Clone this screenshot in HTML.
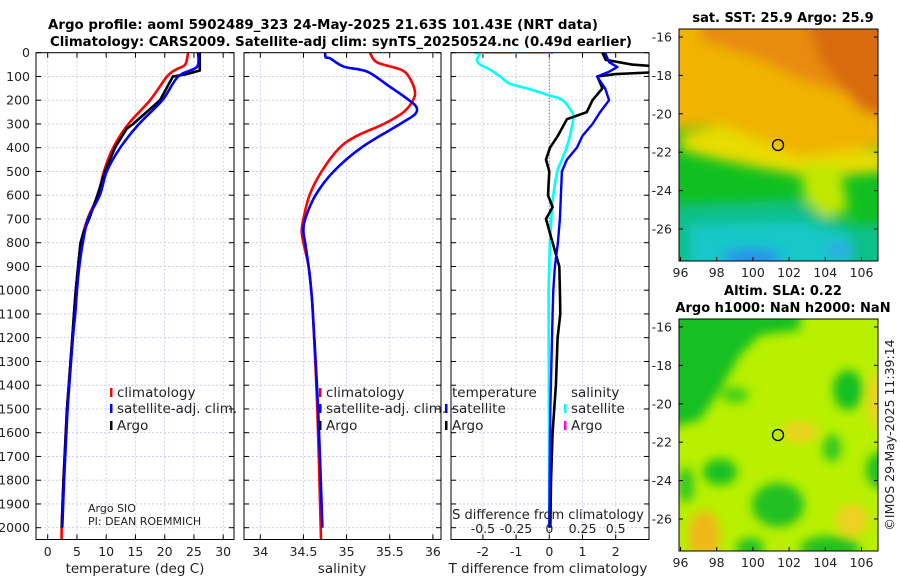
<!DOCTYPE html>
<html><head><meta charset="utf-8"><style>
html,body{margin:0;padding:0;background:#fff;}
svg{display:block;font-family:"DejaVu Sans","Liberation Sans",sans-serif;}
</style></head><body>
<svg id="fig" width="900" height="580" viewBox="0 0 900 580">
<defs>
<clipPath id="c1"><rect x="36" y="52.5" width="198" height="487"/></clipPath>
<clipPath id="c2"><rect x="244" y="52.5" width="197" height="487"/></clipPath>
<clipPath id="c3"><rect x="451" y="52.5" width="198" height="487"/></clipPath>
<clipPath id="m1"><rect x="679" y="29" width="199" height="232"/></clipPath>
<clipPath id="m2"><rect x="679" y="319" width="199" height="232"/></clipPath>
<filter id="bl" x="-50%" y="-50%" width="200%" height="200%"><feGaussianBlur stdDeviation="6"/></filter>
<filter id="bl2" x="-50%" y="-50%" width="200%" height="200%"><feGaussianBlur stdDeviation="5"/></filter>
</defs>
<text x="48" y="29" font-size="13.5" font-weight="bold" textLength="550" lengthAdjust="spacingAndGlyphs">Argo profile: aoml 5902489_323 24-May-2025 21.63S 101.43E (NRT data)</text>
<text x="50" y="46" font-size="13.5" font-weight="bold" textLength="582" lengthAdjust="spacingAndGlyphs">Climatology: CARS2009. Satellite-adj clim: synTS_20250524.nc (0.49d earlier)</text>

<!-- map 1 SST -->
<g clip-path="url(#m1)">
<rect x="679" y="29" width="199" height="232" fill="#10c020"/>
<g filter="url(#bl)">
<path d="M640 0 L920 0 L920 140 L860 150 L800 160 L760 140 L720 125 L640 135Z" fill="#f0b400"/>
<path d="M700 0 L920 0 L920 110 L850 95 L800 80 L760 60 L700 40Z" fill="#e88c10"/>
<path d="M800 0 L920 0 L920 130 L860 110 L820 60Z" fill="#d86c0c"/>
<path d="M680 135 L720 125 L760 140 L800 158 L850 150 L900 150 L900 170 L850 175 L800 175 L760 168 L720 160 L680 150Z" fill="#e8dc00"/>
<path d="M800 165 L840 165 L848 210 L825 218 L805 200Z" fill="#c0e800"/>
<path d="M640 205 L800 200 L820 215 L860 225 L920 220 L920 290 L640 290Z" fill="#10c088"/>
<path d="M690 225 L800 222 L850 235 L850 300 L690 300Z" fill="#18c8c8"/>
<ellipse cx="752" cy="258" rx="30" ry="9" fill="#2c8cf0"/>
<ellipse cx="840" cy="250" rx="14" ry="6" fill="#30a0f0"/>
</g>
</g>
<rect x="679" y="29" width="199" height="232" fill="none" stroke="#000"/>
<circle cx="778" cy="145" r="5.5" fill="none" stroke="#000" stroke-width="1.3"/>
<text x="783" y="22" font-size="13" font-weight="bold" text-anchor="middle">sat. SST: 25.9 Argo: 25.9</text>

<!-- map 2 SLA -->
<g clip-path="url(#m2)">
<rect x="679" y="319" width="199" height="232" fill="#b8f000"/>
<g filter="url(#bl2)">
<path d="M660 300 L800 300 L800 330 L760 335 L740 355 L720 390 L700 420 L660 430Z" fill="#18c020"/>
<ellipse cx="735" cy="395" rx="14" ry="8" fill="#40d018"/>
<ellipse cx="848" cy="390" rx="15" ry="20" fill="#18c020"/>
<ellipse cx="720" cy="472" rx="17" ry="13" fill="#18c020"/>
<ellipse cx="686" cy="485" rx="8" ry="18" fill="#30c820"/>
<ellipse cx="778" cy="505" rx="26" ry="22" fill="#20c020"/>
<ellipse cx="880" cy="470" rx="14" ry="18" fill="#20c020"/>
<ellipse cx="750" cy="548" rx="14" ry="10" fill="#20c020"/>
<ellipse cx="830" cy="548" rx="30" ry="12" fill="#20c020"/>
<ellipse cx="832" cy="448" rx="9" ry="14" fill="#30c820"/>
<ellipse cx="800" cy="432" rx="18" ry="10" fill="#f0d020"/>
<ellipse cx="852" cy="520" rx="16" ry="16" fill="#f0d020"/>
<ellipse cx="878" cy="400" rx="10" ry="28" fill="#f0d020"/>
<ellipse cx="704" cy="535" rx="16" ry="24" fill="#f0b818"/>
</g>
</g>
<rect x="679" y="319" width="199" height="232" fill="none" stroke="#000"/>
<circle cx="778" cy="435" r="5.5" fill="none" stroke="#000" stroke-width="1.3"/>
<text x="783" y="295" font-size="13" font-weight="bold" text-anchor="middle">Altim. SLA: 0.22</text>
<text x="783" y="312" font-size="13" font-weight="bold" text-anchor="middle">Argo h1000: NaN h2000: NaN</text>
<text transform="translate(894,435) rotate(-90)" font-size="12.5" text-anchor="middle" fill="#222">©IMOS 29-May-2025 11:39:14</text>

<g id="plots"></g>
</svg>
<script>
// ---- data ----
const tDepthClim = [0,50,70,100,200,300,400,500,600,700,800,900,1000,1100,1200,1400,1500,1600,1800,2000,2050];
const tClim      = [24.0,23.5,22.0,20.4,17.5,13.8,11.2,9.6,8.6,6.8,5.7,5.2,4.8,4.5,4.2,3.6,3.3,3.1,2.7,2.4,2.4];
const tDepthSat  = [0,60,100,200,300,400,500,600,700,800,900,1000,1100,1200,1400,1500,1600,1800,2000];
const tSat       = [25.7,25.5,22.3,19.6,15.6,12.4,10.1,8.9,6.9,6.0,5.4,5.0,4.7,4.3,3.7,3.4,3.2,2.8,2.5];
const tDepthArgo = [0,75,90,100,150,200,300,320,400,500,600,700,750,800,1000,1100,1200,1400,1500,1600,1800,2000];
const tArgo      = [26.0,26.0,23.8,21.4,20.3,19.2,14.6,13.5,11.5,9.8,8.5,7.1,6.2,5.6,4.8,4.5,4.2,3.6,3.3,3.1,2.7,2.4];

const sDepthClim = [0,40,70,100,160,200,250,300,350,400,500,600,700,750,800,900,1000,1100,1500,2000,2050];
const sClim      = [35.27,35.35,35.62,35.72,35.79,35.77,35.66,35.43,35.12,34.92,34.71,34.57,34.50,34.48,34.50,34.56,34.59,34.61,34.66,34.70,34.70];
const sDepthSat  = [0,20,24,59,80,143,199,230,260,300,400,500,600,700,750,800,900,1000,1100,1500,2000];
const sSat       = [34.75,34.76,34.81,34.97,35.24,35.50,35.72,35.81,35.79,35.62,35.17,34.85,34.64,34.52,34.50,34.52,34.56,34.59,34.61,34.67,34.72];

const dDepthArgoT = [0,30,50,60,80,90,100,150,200,250,280,350,400,450,500,600,650,700,750,800,900,1000,1100,1200,1400,1600,1800,2000];
const dArgoT      = [1.6,1.7,2.5,3.5,3.5,2.0,1.45,1.6,1.3,1.13,0.53,0.26,0.02,-0.1,0,-0.04,0.1,-0.1,0,0.1,0.3,0.32,0.33,0.25,0.2,0.1,0.05,0.03];
const dDepthSatT  = [0,40,60,80,100,150,200,250,300,350,400,450,500,600,700,800,900,1000,1100,1500,2000];
const dSatT       = [1.68,1.8,2.05,1.8,1.44,1.68,1.8,1.53,1.3,1.0,0.83,0.53,0.38,0.35,0.32,0.26,0.17,0.12,0.1,0.03,0.0];
const dDepthSatS  = [0,0,5,30,50,70,100,130,150,180,200,250,280,350,400,450,500,600,700,800,900,1000,1100,2000];
const dSatS       = [0.03,-0.52,-0.52,-0.545,-0.52,-0.45,-0.37,-0.3,-0.17,0,0.1,0.17,0.18,0.155,0.13,0.095,0.06,0.03,0.015,0.005,0,-0.005,-0.005,0];

const depthTicks = [0,100,200,300,400,500,600,700,800,900,1000,1100,1200,1300,1400,1500,1600,1700,1800,1900,2000];
const tTicks = [0,5,10,15,20,25,30];
const sTicks = [34,34.5,35,35.5,36];
const dTTicks = [-2,-1,0,1,2];
const dSTicks = [-0.5,-0.25,0,0.25,0.5];
const dSTickLabels = ["-0.5","-0.25","0","0.25","0.5"];
const latTicks = [-16,-18,-20,-22,-24,-26];
const lonTicks = [96,98,100,102,104,106];

// ---- scales ----
const Y = d => 52.7 + d*0.2375;
const XT = t => 47.7 + t*5.85;
const XS = s => 260.3 + (s-34)*86.3;
const XD = v => 549.3 + v*33.2;
const XDS = v => 549.3 + v*132.8;
const LON = l => 680.5 + (l-96)*18.1;

const NS = "http://www.w3.org/2000/svg";
const root = document.getElementById('plots');
function mk(tag, attrs, parent){
  const e = document.createElementNS(NS, tag);
  for (const k in attrs) e.setAttribute(k, attrs[k]);
  (parent||root).appendChild(e);
  return e;
}
function txt(x,y,s,size,anchor,parent){
  const t = mk('text',{x:x,y:y,'font-size':size,'text-anchor':anchor||'start',fill:'#222'},parent);
  t.textContent = s;
  return t;
}

const panels = [
  {x0:36,x1:234,clip:'c1',ticks:tTicks,fx:XT,lab:t=>String(t),name:'temperature'},
  {x0:244,x1:441,clip:'c2',ticks:sTicks,fx:XS,lab:s=>String(s),name:'salinity'},
  {x0:451,x1:649,clip:'c3',ticks:dTTicks,fx:XD,lab:v=>String(v),name:'difference'}
];
const yBot = 539.5;
panels.forEach(p=>{
  const g = mk('g',{});
  
  
  depthTicks.forEach(d=>{
    const l = mk('line',{x1:p.x0,x2:p.x1,y1:Y(d),y2:Y(d),stroke:'#c4c8ec','stroke-width':0.8,'stroke-dasharray':'2,2'},g);
    
    
    mk('line',{x1:p.x0,x2:p.x0+5,y1:Y(d),y2:Y(d),stroke:'#000'},g);
    mk('line',{x1:p.x1-5,x2:p.x1,y1:Y(d),y2:Y(d),stroke:'#000'},g);
  });
  p.ticks.forEach(t=>{
    const x = p.fx(t);
    const l = mk('line',{x1:x,x2:x,y1:52.7,y2:yBot,stroke:'#c4c8ec','stroke-width':0.8,'stroke-dasharray':'2,2'},g);
    
    
    mk('line',{x1:x,x2:x,y1:52.7,y2:57.7,stroke:'#000'},g);
    mk('line',{x1:x,x2:x,y1:yBot-5,y2:yBot,stroke:'#000'},g);
    const lt = txt(x,556,p.lab(t),12.5,'middle',g);
    
    
  });
});

depthTicks.forEach(d=>{
  const t = txt(30,Y(d)+4.5,String(d),12.5,'end');
  
  
});

const z = mk('line',{x1:XD(0),x2:XD(0),y1:52.7,y2:yBot,stroke:'#446622','stroke-width':1,'stroke-dasharray':'1,2'});



function smoothPath(P){
  let d = 'M'+P[0][0].toFixed(1)+','+P[0][1].toFixed(1);
  for (let i=0;i<P.length-1;i++){
    const p0=P[Math.max(0,i-1)], p1=P[i], p2=P[i+1], p3=P[Math.min(P.length-1,i+2)];
    const c1x=p1[0]+(p2[0]-p0[0])/6, c1y=p1[1]+(p2[1]-p0[1])/6;
    const c2x=p2[0]-(p3[0]-p1[0])/6, c2y=p2[1]-(p3[1]-p1[1])/6;
    d += ' C'+c1x.toFixed(1)+','+c1y.toFixed(1)+' '+c2x.toFixed(1)+','+c2y.toFixed(1)+' '+p2[0].toFixed(1)+','+p2[1].toFixed(1);
  }
  return d;
}
function series(xs, ds, fx, color, clip, name, w, smooth){
  const P = xs.map((v,i)=>[fx(v),Y(ds[i])]);
  let el;
  if (smooth) {
    el = mk('path',{d:smoothPath(P),fill:'none',stroke:color,'stroke-width':w||2.6,'stroke-linejoin':'round','clip-path':'url(#'+clip+')'});
  } else {
    el = mk('polyline',{points:P.map(p=>p[0].toFixed(1)+','+p[1].toFixed(1)).join(' '),fill:'none',stroke:color,'stroke-width':w||2.6,'stroke-linejoin':'round','clip-path':'url(#'+clip+')'});
  }
  
  
}
series(tClim,tDepthClim,XT,'#ff0000','c1','temperature-climatology-line',2.6,true);
series(tArgo,tDepthArgo,XT,'#000000','c1','temperature-argo-line',2.6,false);
series(tSat,tDepthSat,XT,'#0000ff','c1','temperature-satellite-line',2.6,true);
series(sClim,sDepthClim,XS,'#ff0000','c2','salinity-climatology-line',2.6,true);
series(sSat,sDepthSat,XS,'#0000ff','c2','salinity-satellite-line',2.6,true);
series(dSatS,dDepthSatS,XDS,'#00ffff','c3','salinity-diff-satellite-line',2.6,true);
series(dArgoT,dDepthArgoT,XD,'#000000','c3','temperature-diff-argo-line',2.6,false);
series(dSatT,dDepthSatT,XD,'#0000ff','c3','temperature-diff-satellite-line',2.4,false);

panels.forEach(p=>{
  const r = mk('rect',{x:p.x0,y:52.7,width:p.x1-p.x0,height:yBot-52.7,fill:'none',stroke:'#000','stroke-width':1});
  
  
});

dSTicks.forEach((v,i)=>{
  const t = txt(XDS(v),533,dSTickLabels[i],12.5,'middle');
  
  
});
const sAx = txt(548,519,'S difference from climatology',13,'middle');



[[135,'temperature (deg C)','temperature-axis-title'],[342,'salinity','salinity-axis-title'],[548,'T difference from climatology','t-diff-axis-title']].forEach(a=>{
  const t = txt(a[0],573,a[1],13.5,'middle');
  
  
});

function legend(x,y,color,label){
  const g = mk('g',{});
  
  
  mk('rect',{x:x,y:y-9,width:2.5,height:9,fill:color},g);
  txt(x+7,y,label,13.5,'start',g);
}
legend(110,397,'#ff0000','climatology');
legend(110,413,'#0000ff','satellite-adj. clim.');
legend(110,430,'#000000','Argo');
legend(319,397,'#ff0000','climatology');
legend(319,413,'#0000ff','satellite-adj. clim.');
legend(319,430,'#000000','Argo');
const th = txt(452,397,'temperature',13.5,'start');


legend(445,413,'#0000ff','satellite');
legend(445,430,'#000000','Argo');
const sh = txt(571,397,'salinity',13.5,'start');


legend(564,413,'#00ffff','satellite');
legend(564,430,'#ff00ff','Argo');

const pi1 = txt(88,512,'Argo SIO',11,'start');


const pi2 = txt(88,525,'PI: DEAN ROEMMICH',11,'start');



[[29,261,37],[319,551,327]].forEach((m,mi)=>{
  latTicks.forEach(l=>{
    const y = m[2] + (-16-l)*19.2;
    mk('line',{x1:679,x2:683,y1:y,y2:y,stroke:'#000'});
    mk('line',{x1:874,x2:878,y1:y,y2:y,stroke:'#000'});
    const t = txt(672,y+4.5,String(l),12.5,'end');
    
    
  });
  lonTicks.forEach(l=>{
    const x = LON(l);
    mk('line',{x1:x,x2:x,y1:m[1]-4,y2:m[1],stroke:'#000'});
    const t = txt(x,m[1]+16,String(l),12.5,'middle');
    
    
  });
});
</script>
</body></html>
